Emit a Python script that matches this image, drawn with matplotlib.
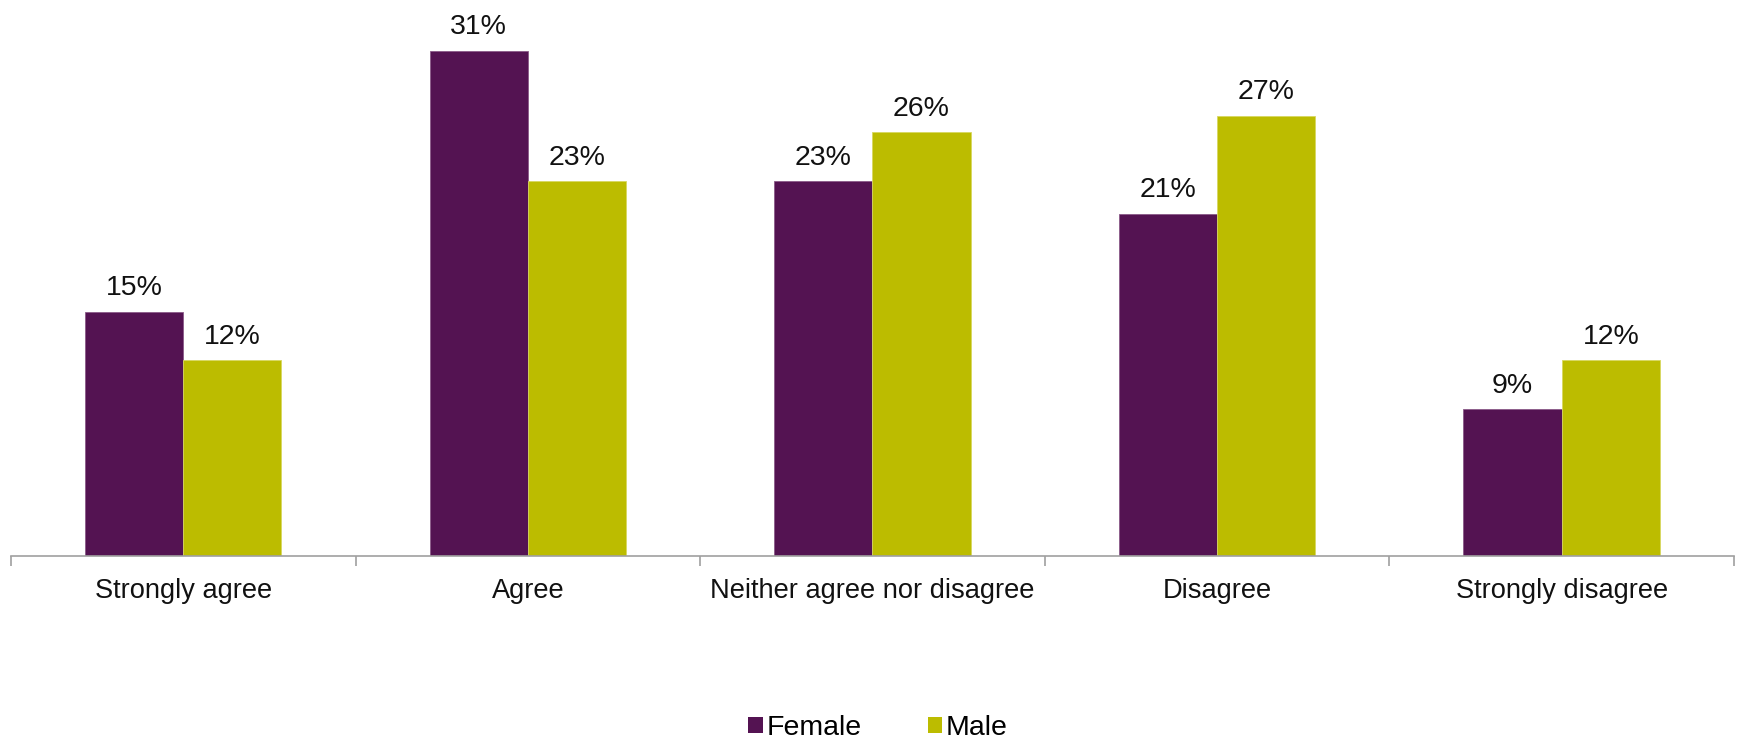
import numpy as np
import matplotlib
matplotlib.use('Agg')
import matplotlib.pyplot as plt
from matplotlib.patches import Patch

# Survey responses by gender (percent)
categories = ['Strongly agree', 'Agree', 'Neither agree nor disagree', 'Disagree', 'Strongly disagree']
female = [15, 31, 23, 21, 9]
male = [12, 23, 26, 27, 12]
series_names = ['Female', 'Male']

colors = ['#541352', '#BCBC00']

plt.rcParams['font.family'] = ['Liberation Sans', 'DejaVu Sans']

fig = plt.figure(figsize=(17.39, 7.39), dpi=100)
ax = fig.add_axes([0.0063, 0.2476, 0.9908, 0.7497])

x = np.arange(len(categories))
w = 0.285
bars_f = ax.bar(x - w / 2, female, w, color=colors[0], edgecolor='#8a5a88', linewidth=0.6)
bars_m = ax.bar(x + w / 2, male, w, color=colors[1], edgecolor='#d8d860', linewidth=0.6)

# value labels above each bar
for bars, vals in [(bars_f, female), (bars_m, male)]:
    for b, v in zip(bars, vals):
        ax.annotate(f'{v}%', (b.get_x() + b.get_width() / 2, v),
                    xytext=(0, 12), textcoords='offset points',
                    ha='center', va='baseline', fontsize=20.5, color='#111111')

ax.set_xlim(-0.5, len(categories) - 0.5)
ax.set_ylim(0, 34)

# category labels at centres, tick marks at group boundaries
ax.set_xticks(x)
ax.set_xticklabels(categories, fontsize=19.6, color='#111111')
ax.tick_params(axis='x', which='major', length=0, pad=16)
ax.set_xticks(np.arange(len(categories) + 1) - 0.5, minor=True)
ax.tick_params(axis='x', which='minor', length=7.2, width=1.2, color='#a0a0a0', direction='out')
ax.set_yticks([])

for side in ['top', 'right', 'left']:
    ax.spines[side].set_visible(False)
ax.spines['bottom'].set_color('#a0a0a0')
ax.spines['bottom'].set_linewidth(1.2)

handles = [Patch(facecolor=c, label=n) for c, n in zip(colors, series_names)]
fig.legend(handles=handles, loc='center', bbox_to_anchor=(0.505, 1 - 728 / 739), ncol=2,
           frameon=False, fontsize=20.5, handlelength=0.5, handleheight=0.5,
           handletextpad=0.15, columnspacing=2.3)

fig.savefig('out.png', dpi=100)
